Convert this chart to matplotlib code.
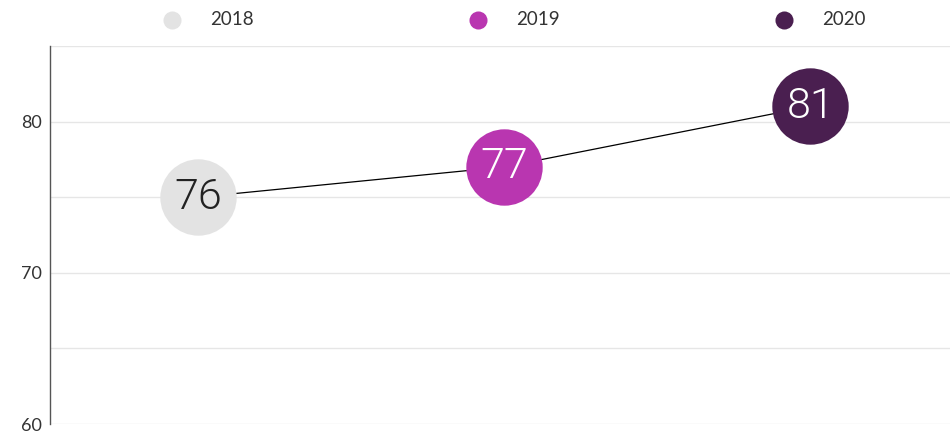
# score per year, drawn as big labelled circles joined by a thin line
import matplotlib
matplotlib.use("Agg")
import matplotlib.pyplot as plt
import matplotlib.transforms as mtransforms

years = ["2018", "2019", "2020"]
scores = [75, 77, 81]          # where the circles sit on the axis
score_labels = ["76", "77", "81"]  # text printed inside the circles
colors = ["#e3e3e3", "#b936b0", "#4a1f50"]
text_colors = ["#222222", "white", "white"]

plt.rcParams["font.family"] = ["Lato", "DejaVu Sans"]

fig = plt.figure(figsize=(9.5, 4.36), dpi=100)
ax = fig.add_axes([50 / 950, 12 / 436, 900 / 950, 378 / 436])

x = list(range(len(years)))

# connecting line behind the circles
ax.plot(x, scores, color="black", lw=0.9, zorder=2)

for i in x:
    ax.plot(x[i], scores[i], "o", ms=55, color=colors[i], mec="none", zorder=3)
    ax.text(x[i], scores[i], score_labels[i], ha="center", va="center",
            fontsize=31, fontweight=300, family=["Roboto", "DejaVu Sans"],
            color=text_colors[i], zorder=4)

ax.set_ylim(60, 85)
ax.set_xlim(-0.4837, 2.457)
ax.set_yticks([60, 65, 70, 75, 80, 85])
ax.set_yticklabels(["60", "", "70", "", "80", ""])
ax.set_xticks([])
ax.grid(axis="y", color="#e6e6e6", lw=1)
ax.set_axisbelow(True)
ax.tick_params(axis="y", length=0, pad=6, labelsize=13, labelcolor="#333333")

for side in ["top", "right", "bottom"]:
    ax.spines[side].set_visible(False)
ax.spines["left"].set_color("#555555")
ax.spines["left"].set_linewidth(1)

# legend row on top, each entry lined up with its circle
trans = ax.get_xaxis_transform()
for i in x:
    mk = mtransforms.offset_copy(trans, fig=fig, x=-26 * 0.72, y=0, units="points")
    ax.plot(x[i], 1.07, "o", ms=13, color=colors[i], mec="none",
            transform=mk, clip_on=False)
    tx = mtransforms.offset_copy(trans, fig=fig, x=12 * 0.72, y=0, units="points")
    ax.text(x[i], 1.07, years[i], ha="left", va="center", fontsize=13.5,
            color="#333333", transform=tx, clip_on=False)

fig.savefig("out.png", dpi=100)
